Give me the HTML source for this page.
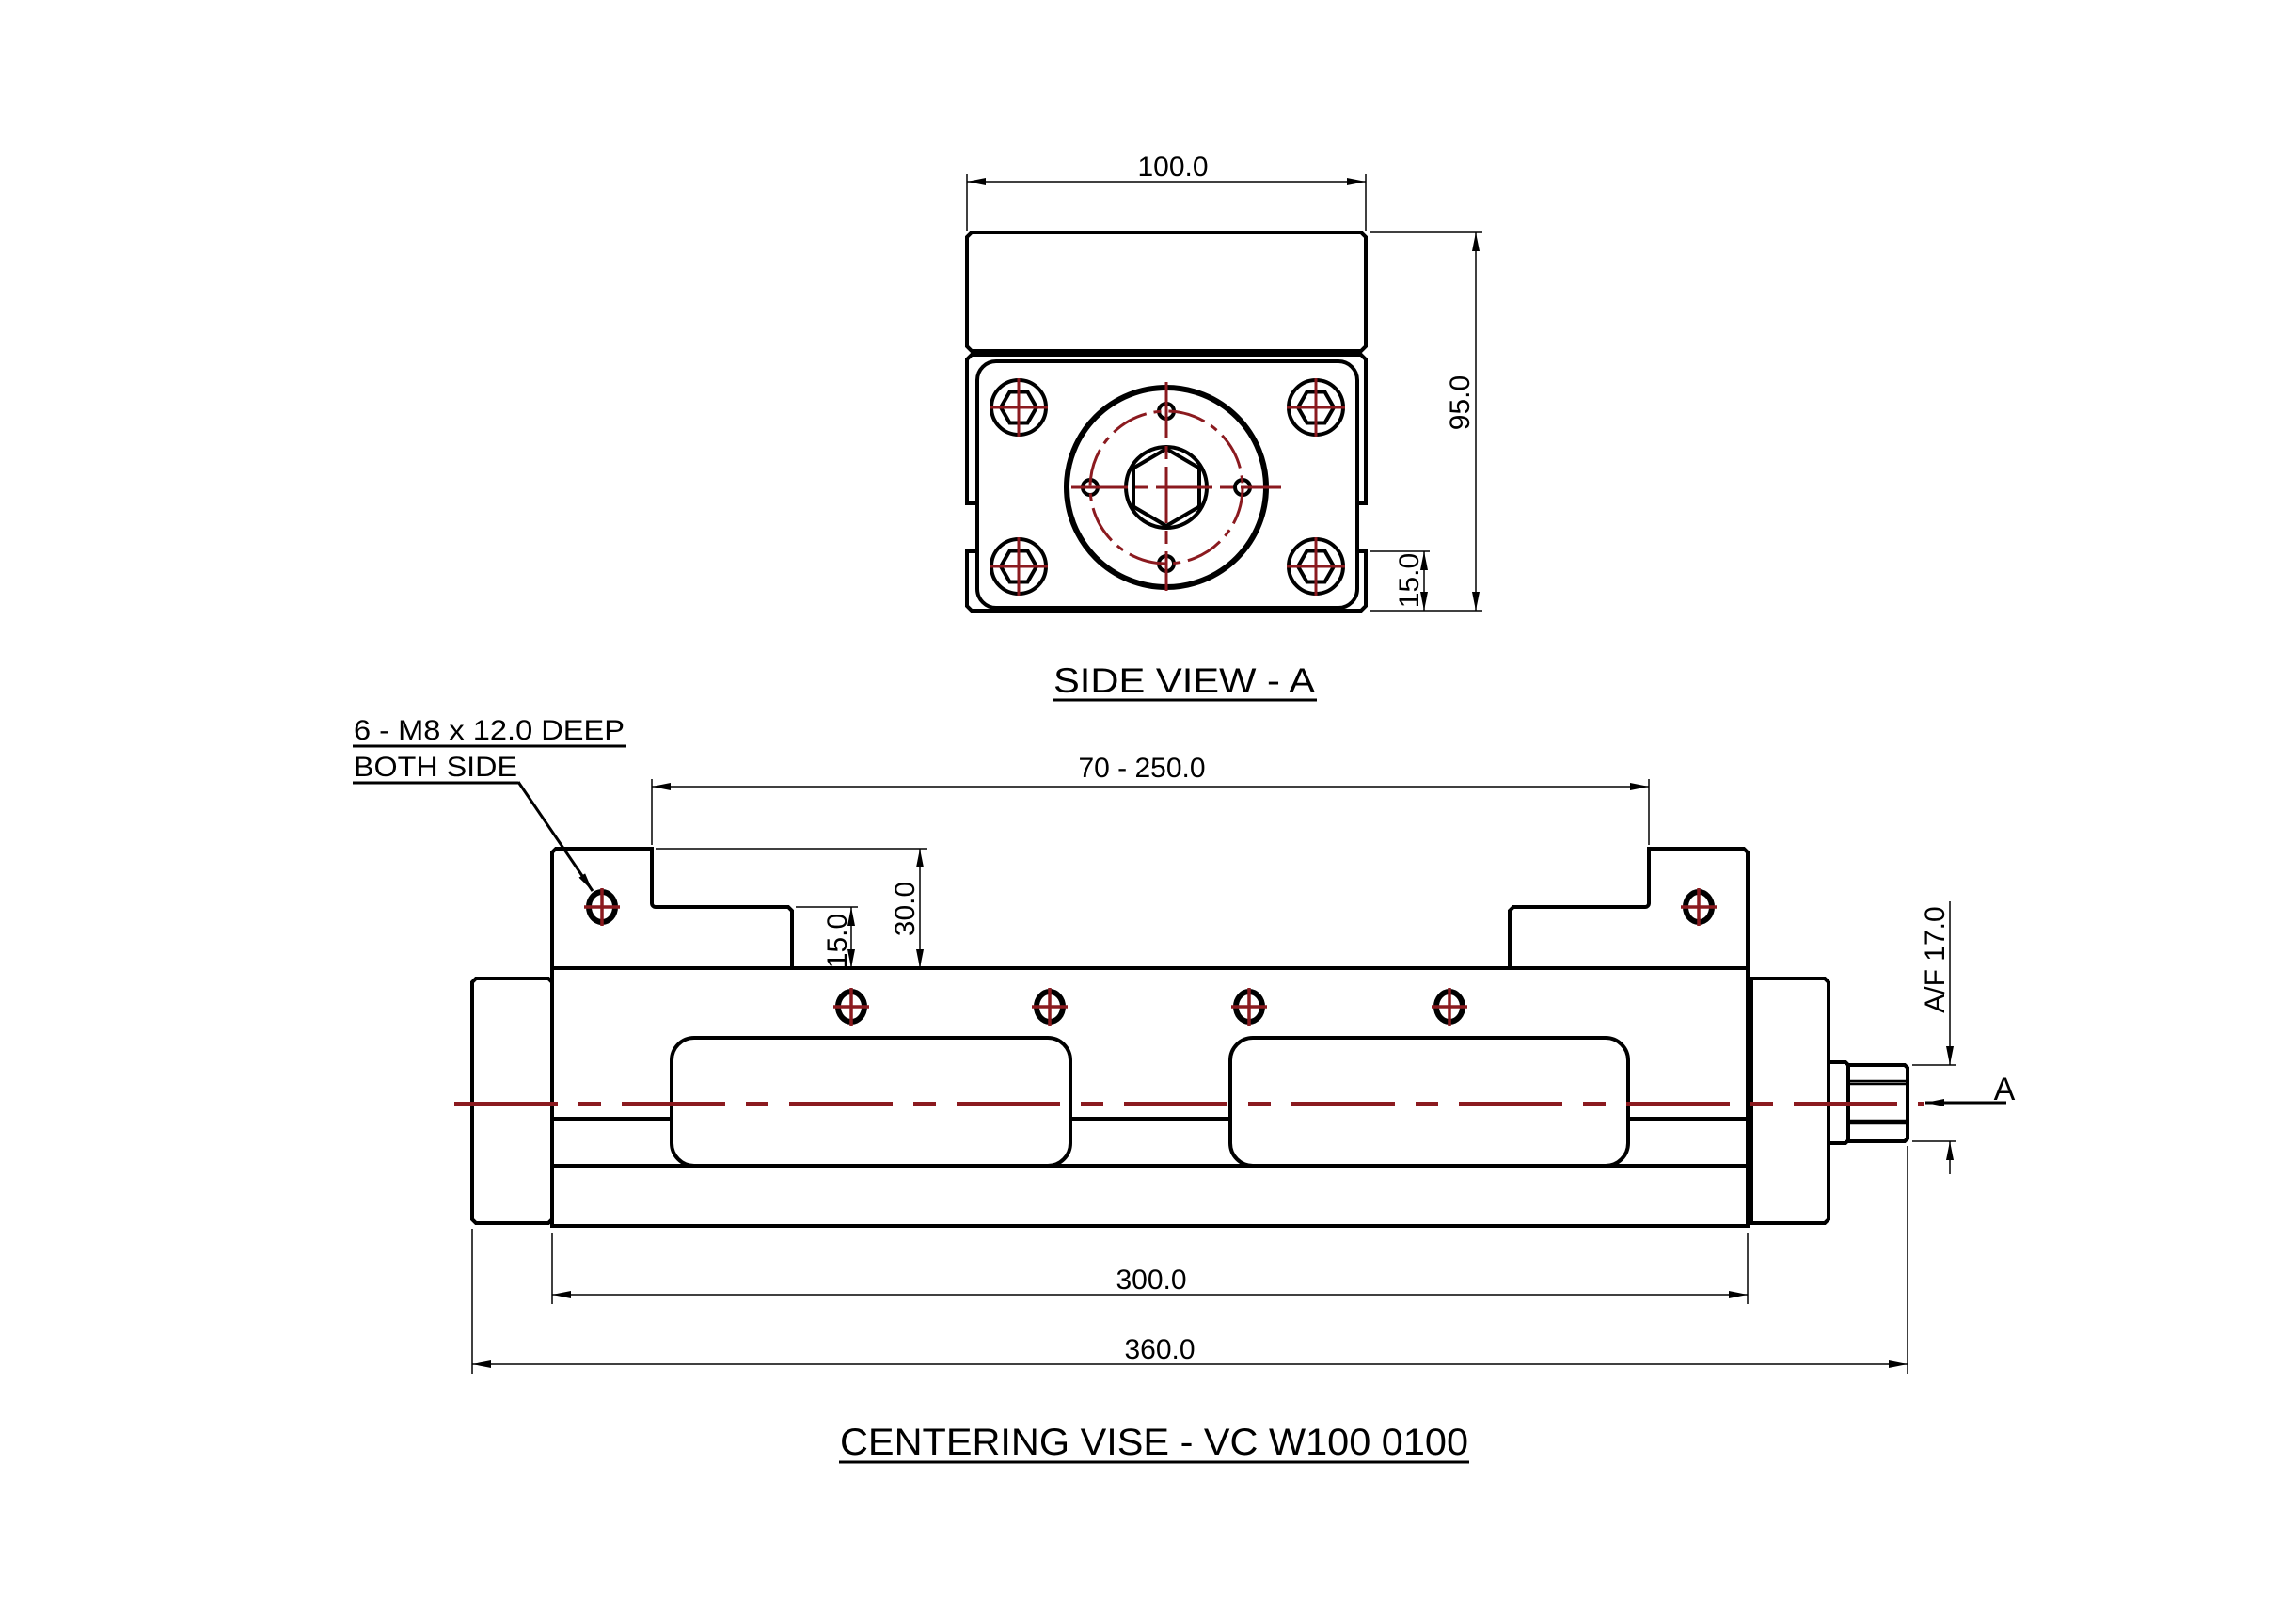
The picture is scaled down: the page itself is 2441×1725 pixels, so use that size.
<!DOCTYPE html>
<html><head><meta charset="utf-8"><style>html,body{margin:0;padding:0;background:#fff}svg{display:block}</style></head>
<body>
<svg xmlns="http://www.w3.org/2000/svg" width="2441" height="1725" viewBox="0 0 2441 1725" font-family="Liberation Sans, Arial, sans-serif">
<defs>
<marker id="ar" viewBox="0 0 20 8" refX="20" refY="4" markerWidth="20" markerHeight="8" markerUnits="userSpaceOnUse" orient="auto-start-reverse"><path d="M0,0 L20,4 L0,8 z" fill="#000"/></marker>
<g id="bolt"><circle r="29" fill="none" stroke="#000" stroke-width="4"/><polygon points="-19,0 -9.5,-16.5 9.5,-16.5 19,0 9.5,16.5 -9.5,16.5" fill="none" stroke="#000" stroke-width="4"/><path d="M-31,0H31M0,-31V31" stroke="#8b1a1f" stroke-width="3"/></g>
<g id="hole"><ellipse rx="14" ry="16" fill="none" stroke="#000" stroke-width="6"/><path d="M-19,0H19M0,-20V20" stroke="#8b1a1f" stroke-width="3.5"/></g>
</defs>
<rect width="2441" height="1725" fill="#fff"/>

<!-- SIDE VIEW -->
<g fill="none" stroke="#000" stroke-width="4">
<path d="M1033,247H1447L1452,252V368L1447,373H1033L1028,368V252Z"/>
<path d="M1033,377H1447L1452,382V535H1443V586H1452V644L1447,649H1033L1028,644V586H1039V535H1028V382Z"/>
<rect x="1039" y="384" width="404" height="262" rx="20"/>
<circle cx="1240" cy="518" r="106" stroke-width="6"/>
<circle cx="1240" cy="518" r="43"/>
<polygon points="1240,477 1275,497.5 1275,538.5 1240,559 1205,538.5 1205,497.5"/>
<circle cx="1240" cy="437" r="8"/><circle cx="1240" cy="599" r="8"/><circle cx="1159" cy="518" r="8"/><circle cx="1321" cy="518" r="8"/>
</g>
<circle cx="1240" cy="518" r="81" fill="none" stroke="#8b1a1f" stroke-width="3" stroke-dasharray="40 8 8 8"/>
<path d="M1139,518H1362M1240,406V628" stroke="#8b1a1f" stroke-width="3" stroke-dasharray="60 8 14 8"/>
<use href="#bolt" x="1083" y="433"/><use href="#bolt" x="1399" y="433"/><use href="#bolt" x="1083" y="602"/><use href="#bolt" x="1399" y="602"/>

<g stroke="#000" stroke-width="1.5" fill="none">
<path d="M1028,185V245M1452,185V245"/>
<path d="M1028,193H1452" marker-start="url(#ar)" marker-end="url(#ar)"/>
<path d="M1456,247H1576M1456,649H1576M1456,586H1520"/>
<path d="M1569,247V649" marker-start="url(#ar)" marker-end="url(#ar)"/>
<path d="M1514,586V649" marker-start="url(#ar)" marker-end="url(#ar)"/>
</g>
<text x="1247" y="187" font-size="30" text-anchor="middle">100.0</text>
<text transform="translate(1562,428) rotate(-90)" font-size="30" text-anchor="middle">95.0</text>
<text transform="translate(1508,617) rotate(-90)" font-size="30" text-anchor="middle">15.0</text>
<text x="1259" y="736" font-size="37" text-anchor="middle" textLength="278" lengthAdjust="spacingAndGlyphs">SIDE VIEW - A</text>
<path d="M1119,744H1400" stroke="#000" stroke-width="3"/>

<!-- MAIN VIEW -->
<g fill="none" stroke="#000" stroke-width="4">
<path d="M587,1029V906L591,902H693V960A4,4 0 0 0 697,964H838L842,968V1029"/>
<path d="M1858,1029V906L1854,902H1753V960A4,4 0 0 1 1749,964H1609L1605,968V1029"/>
<path d="M587,1029H1858V1303H587Z"/>
<path d="M587,1239H1858"/>
<path d="M587,1189H714M1138,1189H1308M1731,1189H1858"/>
<rect x="714" y="1103" width="424" height="136" rx="24"/>
<rect x="1308" y="1103" width="423" height="136" rx="24"/>
<path d="M506,1040H583L587,1044V1296L583,1300H506L502,1296V1044Z"/>
<path d="M1862,1040H1940L1944,1044V1296L1940,1300H1862Z"/>
<path d="M1944,1129H1962L1965,1132V1212L1962,1215H1944Z"/>
<path d="M1965,1132H2025L2028,1135V1210L2025,1213H1965Z"/>
<path d="M1965,1149H2028M1965,1152H2028M1965,1191H2028M1965,1194H2028" stroke-width="2.5"/>
</g>
<path d="M483,1173H2045" stroke="#8b1a1f" stroke-width="4" stroke-dasharray="110 22 24 22"/>
<use href="#hole" x="640" y="964"/><use href="#hole" x="1806" y="964"/>
<use href="#hole" x="905" y="1070"/><use href="#hole" x="1116" y="1070"/><use href="#hole" x="1328" y="1070"/><use href="#hole" x="1541" y="1070"/>

<g stroke="#000" stroke-width="1.5" fill="none">
<path d="M693,828V898M1753,828V898"/>
<path d="M693,836H1753" marker-start="url(#ar)" marker-end="url(#ar)"/>
<path d="M697,902H986M846,964H912"/>
<path d="M978,902V1029" marker-start="url(#ar)" marker-end="url(#ar)"/>
<path d="M905,964V1029" marker-start="url(#ar)" marker-end="url(#ar)"/>
<path d="M587,1310V1386M1858,1310V1386M502,1306V1460M2028,1218V1460"/>
<path d="M587,1376H1858" marker-start="url(#ar)" marker-end="url(#ar)"/>
<path d="M502,1450H2028" marker-start="url(#ar)" marker-end="url(#ar)"/>
<path d="M2033,1132H2080M2033,1213H2080"/>
<path d="M2073,958V1132" marker-end="url(#ar)"/>
<path d="M2073,1248V1213" marker-end="url(#ar)"/>
</g>
<path d="M2133,1172H2047" stroke="#000" stroke-width="3" fill="none" marker-end="url(#ar)"/>
<text x="2131" y="1169" font-size="34" text-anchor="middle">A</text>
<path d="M551,831L630,947" stroke="#000" stroke-width="3" fill="none" marker-end="url(#ar)"/>
<text x="1214" y="826" font-size="30" text-anchor="middle">70 - 250.0</text>
<text transform="translate(972,966) rotate(-90)" font-size="30" text-anchor="middle">30.0</text>
<text transform="translate(900,1000) rotate(-90)" font-size="30" text-anchor="middle">15.0</text>
<text x="1224" y="1370" font-size="30" text-anchor="middle">300.0</text>
<text x="1233" y="1444" font-size="30" text-anchor="middle">360.0</text>
<text transform="translate(2067,1020) rotate(-90)" font-size="30" text-anchor="middle">A/F 17.0</text>
<text x="376" y="786" font-size="30" textLength="288" lengthAdjust="spacingAndGlyphs">6 - M8 x 12.0 DEEP</text>
<path d="M375,793H666M375,832H551" stroke="#000" stroke-width="3"/>
<text x="376" y="825" font-size="30" textLength="174" lengthAdjust="spacingAndGlyphs">BOTH SIDE</text>
<text x="1227" y="1546" font-size="40" text-anchor="middle" textLength="668" lengthAdjust="spacingAndGlyphs">CENTERING VISE - VC W100 0100</text>
<path d="M892,1554H1562" stroke="#000" stroke-width="3"/>
</svg>
</body></html>
